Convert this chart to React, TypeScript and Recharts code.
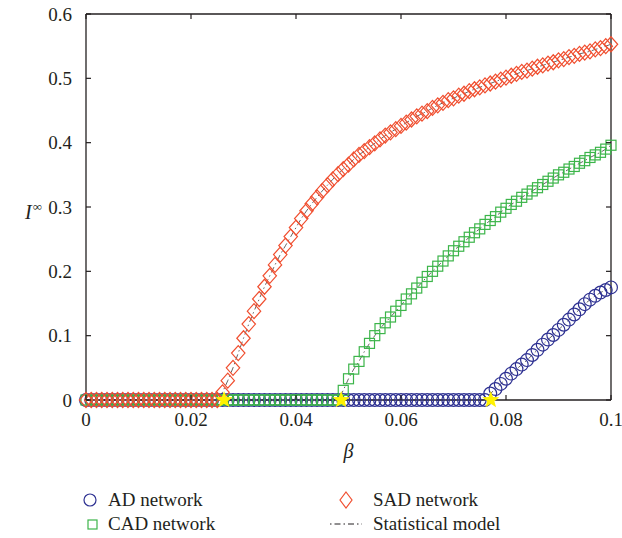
import { ComposedChart, Line, Scatter, XAxis, YAxis } from "recharts"

// infection threshold parameter
const beta = [
  0, 0.001, 0.002, 0.003, 0.004, 0.005, 0.006, 0.007, 0.008, 0.009,
  0.01, 0.011, 0.012, 0.013, 0.014, 0.015, 0.016, 0.017, 0.018, 0.019,
  0.02, 0.021, 0.022, 0.023, 0.024, 0.025, 0.026, 0.027, 0.028, 0.029,
  0.03, 0.031, 0.032, 0.033, 0.034, 0.035, 0.036, 0.037, 0.038, 0.039,
  0.04, 0.041, 0.042, 0.043, 0.044, 0.045, 0.046, 0.047, 0.048, 0.049,
  0.05, 0.051, 0.052, 0.053, 0.054, 0.055, 0.056, 0.057, 0.058, 0.059,
  0.06, 0.061, 0.062, 0.063, 0.064, 0.065, 0.066, 0.067, 0.068, 0.069,
  0.07, 0.071, 0.072, 0.073, 0.074, 0.075, 0.076, 0.077, 0.078, 0.079,
  0.08, 0.081, 0.082, 0.083, 0.084, 0.085, 0.086, 0.087, 0.088, 0.089,
  0.09, 0.091, 0.092, 0.093, 0.094, 0.095, 0.096, 0.097, 0.098, 0.099,
  0.1,
]

const ad = [
  0, 0, 0, 0, 0, 0, 0, 0, 0, 0,
  0, 0, 0, 0, 0, 0, 0, 0, 0, 0,
  0, 0, 0, 0, 0, 0, 0, 0, 0, 0,
  0, 0, 0, 0, 0, 0, 0, 0, 0, 0,
  0, 0, 0, 0, 0, 0, 0, 0, 0, 0,
  0, 0, 0, 0, 0, 0, 0, 0, 0, 0,
  0, 0, 0, 0, 0, 0, 0, 0, 0, 0,
  0, 0, 0, 0, 0, 0, 0, 0.01, 0.017, 0.025,
  0.033, 0.041, 0.048, 0.055, 0.062, 0.07, 0.078, 0.086, 0.094, 0.101,
  0.109, 0.117, 0.125, 0.133, 0.141, 0.149, 0.156, 0.162, 0.167, 0.171,
  0.175,
]

const cad = [
  0, 0, 0, 0, 0, 0, 0, 0, 0, 0,
  0, 0, 0, 0, 0, 0, 0, 0, 0, 0,
  0, 0, 0, 0, 0, 0, 0, 0, 0, 0,
  0, 0, 0, 0, 0, 0, 0, 0, 0, 0,
  0, 0, 0, 0, 0, 0, 0, 0, 0, 0.015,
  0.033, 0.048, 0.06, 0.075, 0.088, 0.1, 0.111, 0.12, 0.129, 0.138,
  0.147, 0.157, 0.165, 0.174, 0.183, 0.192, 0.2, 0.208, 0.216, 0.224,
  0.232, 0.239, 0.246, 0.253, 0.26, 0.266, 0.273, 0.279, 0.285, 0.292,
  0.298, 0.304, 0.309, 0.315, 0.32, 0.325, 0.33, 0.335, 0.34, 0.345,
  0.35, 0.354, 0.359, 0.363, 0.368, 0.372, 0.377, 0.381, 0.385, 0.39,
  0.396,
]

const sad = [
  0, 0, 0, 0, 0, 0, 0, 0, 0, 0,
  0, 0, 0, 0, 0, 0, 0, 0, 0, 0,
  0, 0, 0, 0, 0, 0, 0.012, 0.03, 0.05, 0.073,
  0.096, 0.118, 0.138, 0.157, 0.176, 0.193, 0.21, 0.226, 0.24, 0.254,
  0.268, 0.282, 0.294, 0.305, 0.315, 0.325, 0.334, 0.343, 0.351, 0.359,
  0.366, 0.374, 0.381, 0.387, 0.393, 0.399, 0.405, 0.411, 0.416, 0.421,
  0.426, 0.431, 0.436, 0.441, 0.445, 0.449, 0.454, 0.458, 0.462, 0.466,
  0.469, 0.473, 0.476, 0.48, 0.483, 0.486, 0.489, 0.492, 0.495, 0.498,
  0.501, 0.504, 0.507, 0.51, 0.512, 0.515, 0.518, 0.52, 0.523, 0.525,
  0.528, 0.53, 0.533, 0.535, 0.538, 0.54, 0.542, 0.545, 0.547, 0.55,
  0.553,
]

// epidemic thresholds marked with stars
const thresholds = [0.0263, 0.0486, 0.0771]
const thresholdLevel = [0, 0, 0]

const xTicks = [0, 0.02, 0.04, 0.06, 0.08, 0.1]
const xLabels = ["0", "0.02", "0.04", "0.06", "0.08", "0.1"]
const yTicks = [0, 0.1, 0.2, 0.3, 0.4, 0.5, 0.6]
const yLabels = ["0", "0.1", "0.2", "0.3", "0.4", "0.5", "0.6"]

const BLUE = "#2e3192"
const GREEN = "#3cb54a"
const RED = "#f04f30"
const STAR = "#fff200"
const INK = "#231f20"
const FONT = '"Liberation Serif", "DejaVu Serif", serif'
const FS = 19

const pts = (vals: number[]) => beta.map((b, i) => ({ x: b, y: vals[i] }))
const adPts = pts(ad)
const cadPts = pts(cad)
const sadPts = pts(sad)
const starPts = thresholds.map((t, i) => ({ x: t, y: thresholdLevel[i] }))

const CircleMark = ({ cx, cy }: any) => (
  <circle cx={cx} cy={cy} r={6.4} fill="none" stroke={BLUE} strokeWidth={1.2} />
)
const SquareMark = ({ cx, cy }: any) => (
  <rect x={cx - 5} y={cy - 5} width={10} height={10} fill="none" stroke={GREEN} strokeWidth={1.2} />
)
const DiamondMark = ({ cx, cy }: any) => (
  <path
    d={`M${cx},${cy - 7.5}L${cx + 6.7},${cy}L${cx},${cy + 7.5}L${cx - 6.7},${cy}Z`}
    fill="none"
    stroke={RED}
    strokeWidth={1.2}
  />
)
const StarMark = ({ cx, cy }: any) => {
  const p: string[] = []
  for (let k = 0; k < 10; k++) {
    const r = k % 2 === 0 ? 9 : 3.8
    const a = -Math.PI / 2 + (k * Math.PI) / 5
    p.push(`${cx + r * Math.cos(a)},${cy + r * Math.sin(a)}`)
  }
  return <polygon points={p.join(" ")} fill={STAR} stroke="none" />
}

const X_MARGIN = 13
const Y_MARGIN = 14

const BottomTick = ({ x, y, payload }: any) => {
  const i = xTicks.indexOf(payload.value)
  const axisY = y - X_MARGIN
  return (
    <g>
      <line x1={x} x2={x} y1={axisY} y2={axisY - 5} stroke={INK} strokeWidth={1.2} />
      <text x={x} y={y} dy="0.71em" textAnchor="middle" fontFamily={FONT} fontSize={FS} fill={INK}>
        {xLabels[i]}
      </text>
    </g>
  )
}

const LeftTick = ({ x, y, payload }: any) => {
  const i = yTicks.indexOf(payload.value)
  const axisX = x + Y_MARGIN
  return (
    <g>
      <line x1={axisX} x2={axisX + 5} y1={y} y2={y} stroke={INK} strokeWidth={1.2} />
      <text x={x} y={y} dy="0.35em" textAnchor="end" fontFamily={FONT} fontSize={FS} fill={INK}>
        {yLabels[i]}
      </text>
    </g>
  )
}

const TopTick = ({ x, y }: any) => (
  <line x1={x} x2={x} y1={y} y2={y + 5} stroke={INK} strokeWidth={1.2} />
)
const RightTick = ({ x, y }: any) => (
  <line x1={x} x2={x - 5} y1={y} y2={y} stroke={INK} strokeWidth={1.2} />
)

const axisLine = { stroke: INK, strokeWidth: 1.3 }

function BetaLabel({ viewBox }: any) {
  return (
    <text
      x={viewBox.x + viewBox.width / 2}
      y={viewBox.y + 58}
      textAnchor="middle"
      fontFamily={FONT}
      fontStyle="italic"
      fontSize={FS + 1}
      fill={INK}
    >
      β
    </text>
  )
}

function ILabel({ viewBox }: any) {
  return (
    <text x={25} y={viewBox.y + viewBox.height / 2 + 12} fontFamily={FONT} fill={INK}>
      <tspan fontStyle="italic" fontSize={FS + 1}>I</tspan>
      <tspan fontSize={13} dx={1} dy={-8}>∞</tspan>
    </text>
  )
}

function Legend() {
  const text = { fontFamily: FONT, fontSize: FS, fill: INK }
  return (
    <svg width={622} height={58} style={{ position: "absolute", left: 0, top: 480 }}>
      <circle cx={90} cy={20} r={6} fill="none" stroke={BLUE} strokeWidth={1.2} />
      <text x={108} y={26} {...text}>AD network</text>
      <path d="M346,12L352,20L346,28L340,20Z" fill="none" stroke={RED} strokeWidth={1.2} />
      <text x={373} y={26} {...text}>SAD network</text>
      <rect x={88} y={40} width={9} height={9} fill="none" stroke={GREEN} strokeWidth={1.2} />
      <text x={108} y={50} {...text}>CAD network</text>
      <line x1={330} x2={362} y1={44} y2={44} stroke={INK} strokeWidth={1} strokeDasharray="1.5 3 6 3" />
      <text x={373} y={50} {...text}>Statistical model</text>
    </svg>
  )
}

export default function App() {
  return (
    <div style={{ position: "absolute", left: 0, top: 0, width: 622, height: 538 }}>
      <ComposedChart width={622} height={480} margin={{ top: 13, right: 10, left: 0, bottom: 20 }}>
        <XAxis
          dataKey="x"
          type="number"
          domain={[0, 0.1]}
          ticks={xTicks}
          height={60}
          tickSize={0}
          tickMargin={X_MARGIN}
          tick={<BottomTick />}
          tickLine={false}
          axisLine={axisLine}
          interval={0}
          label={<BetaLabel />}
        />
        <XAxis
          xAxisId="top"
          orientation="top"
          dataKey="x"
          type="number"
          domain={[0, 0.1]}
          ticks={xTicks}
          height={1}
          tickSize={0}
          tickMargin={0}
          tick={<TopTick />}
          tickLine={false}
          axisLine={axisLine}
          interval={0}
        />
        <YAxis
          type="number"
          domain={[0, 0.6]}
          ticks={yTicks}
          width={86}
          tickSize={0}
          tickMargin={Y_MARGIN}
          tick={<LeftTick />}
          tickLine={false}
          axisLine={axisLine}
          interval={0}
          label={<ILabel />}
        />
        <YAxis
          yAxisId="r"
          orientation="right"
          type="number"
          domain={[0, 0.6]}
          ticks={yTicks}
          width={1}
          tickSize={0}
          tickMargin={0}
          tick={<RightTick />}
          tickLine={false}
          axisLine={axisLine}
          interval={0}
        />
        <Scatter data={adPts} dataKey="y" shape={<CircleMark />} isAnimationActive={false} />
        <Scatter data={cadPts} dataKey="y" shape={<SquareMark />} isAnimationActive={false} />
        <Scatter data={sadPts} dataKey="y" shape={<DiamondMark />} isAnimationActive={false} />
        <Line data={adPts} dataKey="y" stroke={INK} strokeWidth={0.7} strokeDasharray="6 3 1.5 3" dot={false} isAnimationActive={false} />
        <Line data={cadPts} dataKey="y" stroke={INK} strokeWidth={0.7} strokeDasharray="6 3 1.5 3" dot={false} isAnimationActive={false} />
        <Line data={sadPts} dataKey="y" stroke={INK} strokeWidth={0.7} strokeDasharray="6 3 1.5 3" dot={false} isAnimationActive={false} />
        <Scatter data={starPts} dataKey="y" shape={<StarMark />} isAnimationActive={false} />
        {/* keeps the frame axes (top / right) bound to a series */}
        <Line data={starPts} dataKey="y" xAxisId="top" yAxisId="r" stroke="none" dot={false} isAnimationActive={false} />
      </ComposedChart>
      <Legend />
    </div>
  )
}
